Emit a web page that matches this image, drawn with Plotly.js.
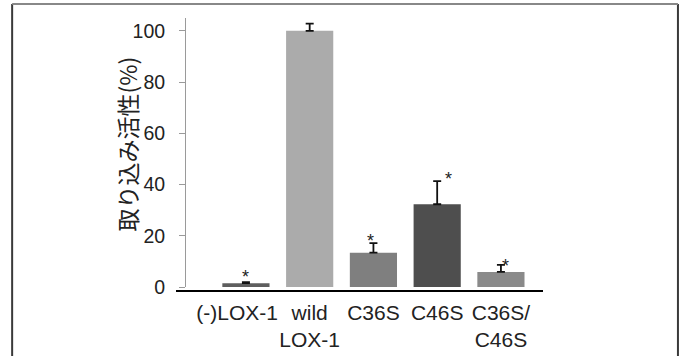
<!DOCTYPE html>
<html>
<head>
<meta charset="utf-8">
<script src="https://cdn.plot.ly/plotly-3.0.1.min.js"></script>
<style>html,body{margin:0;padding:0;background:#fff;}#chart{width:685px;height:356px;}</style>
</head>
<body>
<div id="chart"></div>
<script>
const categories = ["(-)LOX-1", "wild<br>LOX-1", "C36S", "C46S", "C36S/<br>C46S"];
const tickLabels = ["(-)LOX-1\u00a0\u00a0\u00a0", "wild<br>LOX-1", "C36S", "C46S", "C36S/<br>C46S"];
const values = [1.5, 100, 13.4, 32.3, 5.9];
const errors = [0.4, 2.8, 3.7, 9.0, 2.7];
const barColors = ["#5e5e5e", "#ababab", "#7f7f7f", "#4e4e4e", "#8a8a8a"];
const starShown = [true, false, true, true, true];
const starShiftX = [0, 0, -3, 11, 5];
const starShiftY = [-7, 0, -10, -10, -13];
const yTicks = [0, 20, 40, 60, 80, 100];
const yTitle = "取り込み活性(%)";

const trace = {
  type: "bar",
  x: categories,
  y: values,
  marker: {color: barColors, line: {width: 0}},
  error_y: {
    type: "data", symmetric: false, array: errors,
    arrayminus: errors.map(() => 0),
    color: "#111", thickness: 1.8, width: 4
  },
  hoverinfo: "none"
};

const annotations = [];
categories.forEach((c, i) => {
  if (!starShown[i]) return;
  annotations.push({
    x: c, y: values[i] + errors[i], xref: "x", yref: "y",
    text: "*", showarrow: false, xshift: starShiftX[i], yshift: starShiftY[i],
    yanchor: "bottom", font: {family: "Liberation Sans, Arial", size: 18, color: "#222"}
  });
});
annotations.push({
  xref: "paper", yref: "paper", x: -0.165, y: 0.53, text: yTitle, textangle: -90,
  showarrow: false, xanchor: "center", yanchor: "middle",
  font: {family: "Noto Sans CJK JP", size: 23, color: "#222"}
});

const layout = {
  width: 685, height: 356,
  margin: {l: 186, r: 142, t: 18, b: 69, pad: 0},
  paper_bgcolor: "#fff", plot_bgcolor: "#fff",
  showlegend: false,
  bargap: 0.26,
  font: {family: "Liberation Sans, Arial", color: "#222"},
  xaxis: {
    range: [-0.94, 4.66], showline: false, showgrid: false, zeroline: false,
    tickvals: categories, ticktext: tickLabels,
    ticks: "", tickangle: 0, tickfont: {size: 21, color: "#222"}, ticklabelstandoff: 11,
    fixedrange: true
  },
  yaxis: {
    range: [0, 105], tickvals: yTicks, ticktext: yTicks.map(String),
    showline: true, linecolor: "#9a9a9a", linewidth: 1,
    ticks: "outside", ticklen: 6, tickcolor: "#9a9a9a", tickwidth: 1,
    showgrid: false, zeroline: false, ticklabelstandoff: 10,
    tickfont: {size: 19.5, color: "#222"}, fixedrange: true
  },
  shapes: [
    {type: "line", xref: "paper", yref: "paper", x0: -0.028, x1: 1, y0: -0.015, y1: -0.015,
     line: {color: "#000", width: 2}},
    {type: "line", xref: "paper", yref: "paper", x0: -0.487, x1: -0.487, y0: 1.052, y1: -0.3,
     line: {color: "#3a3a3a", width: 2}},
    {type: "line", xref: "paper", yref: "paper", x0: 1.378, x1: 1.378, y0: 1.052, y1: -0.3,
     line: {color: "#3a3a3a", width: 2}},
    {type: "line", xref: "paper", yref: "paper", x0: -0.487, x1: 1.378, y0: 1.052, y1: 1.052,
     line: {color: "#888", width: 2}}
  ],
  annotations: annotations
};

Plotly.newPlot("chart", [trace], layout, {displayModeBar: false, staticPlot: true});
</script>
</body>
</html>
